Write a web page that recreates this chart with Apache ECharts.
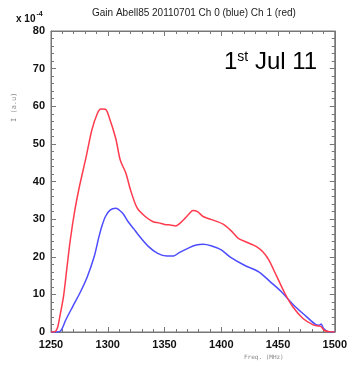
<!DOCTYPE html>
<html>
<head>
<meta charset="utf-8">
<script src="https://cdn.jsdelivr.net/npm/echarts@6/dist/echarts.min.js"></script>
<style>
  html, body { margin: 0; padding: 0; background: #fff; }
  #chart { width: 350px; height: 367px; }
</style>
</head>
<body>
<div id="chart"></div>
<script>
// Ch 1 (red) gain, units of 1e-4
const freqRed = [1250, 1254, 1256, 1258, 1261, 1264, 1267, 1271, 1275, 1281, 1286, 1291, 1294, 1298, 1301, 1307, 1311, 1316, 1320, 1326, 1333, 1340, 1345, 1350, 1356, 1360, 1364, 1368, 1372, 1375, 1379, 1384, 1389, 1394, 1402, 1409, 1415, 1423, 1431, 1437, 1442, 1449, 1456, 1463, 1472, 1481, 1486, 1488, 1491, 1495, 1500];
const ampRed = [0, 0.2, 1.4, 4.5, 9.4, 17, 24.5, 32.4, 38.6, 46.6, 53.7, 58.2, 59.3, 59.2, 57.3, 51.5, 45.7, 42.2, 37.8, 32.9, 30.7, 29.3, 29.0, 28.6, 28.4, 28.2, 29.0, 30.2, 31.5, 32.3, 32.0, 30.7, 30.1, 29.6, 28.6, 26.8, 24.9, 23.8, 22.7, 21.2, 19.1, 14.7, 10.3, 6.7, 3.6, 1.9, 1.6, 1.4, 0.4, 0.1, 0];

// Ch 0 (blue)
const freqBlue = [1250, 1256, 1259, 1263, 1269, 1276, 1282, 1288, 1292, 1295, 1298, 1302, 1307, 1313, 1318, 1323, 1327, 1336, 1344, 1352, 1358, 1363, 1371, 1378, 1384, 1391, 1400, 1408, 1420, 1433, 1443, 1453, 1463, 1475, 1483, 1486, 1488, 1490, 1494, 1500];
const ampBlue = [0, 0, 0.5, 3.2, 6.7, 10.7, 14.7, 20.0, 25.0, 28.3, 30.7, 32.4, 32.9, 31.6, 29.3, 27.4, 25.8, 22.7, 20.9, 20.2, 20.2, 21.1, 22.3, 23.1, 23.3, 22.9, 21.8, 19.9, 17.8, 16.0, 13.4, 10.7, 7.4, 4.1, 2.0, 1.8, 2.1, 1.0, 0.1, 0];

const xTicks = [1250, 1300, 1350, 1400, 1450, 1500];
const yTicks = [0, 10, 20, 30, 40, 50, 60, 70, 80];

const pairs = (xs, ys) => xs.map((x, i) => [x, ys[i]]);

const axisGrey = "#777";
const tickFont = { fontFamily: "Liberation Sans", fontWeight: "bold", fontSize: 11, color: "#111", formatter: (v) => String(v) };

function frameAxis(extra) {
  return Object.assign({
    type: "value",
    show: true,
    gridIndex: 0,
    axisLine: { show: true, onZero: false, lineStyle: { color: axisGrey, width: 1 } },
    axisTick: { show: true, inside: true, length: 5, lineStyle: { color: axisGrey } },
    minorTick: { show: true, splitNumber: 5, length: 3, lineStyle: { color: axisGrey } },
    splitLine: { show: false },
  }, extra);
}

const chart = echarts.init(document.getElementById("chart"), null, { renderer: "canvas" });
chart.setOption({
  animation: false,
  backgroundColor: "#fff",
  grid: { left: 51, right: 11, top: 31, bottom: 35, show: true, borderColor: axisGrey, borderWidth: 1, backgroundColor: "transparent" },
  xAxis: [
    frameAxis({
      position: "bottom", min: xTicks[0], max: xTicks[xTicks.length - 1], interval: 50,
      axisLabel: Object.assign({ margin: 7 }, tickFont),
    }),
    frameAxis({
      position: "top", min: xTicks[0], max: xTicks[xTicks.length - 1], interval: 50,
      axisLabel: { show: false },
    }),
  ],
  yAxis: [
    frameAxis({
      position: "left", min: yTicks[0], max: yTicks[yTicks.length - 1], interval: 10,
      axisLabel: Object.assign({ margin: 6 }, tickFont),
    }),
    frameAxis({
      position: "right", min: yTicks[0], max: yTicks[yTicks.length - 1], interval: 10,
      axisLabel: { show: false },
    }),
  ],
  series: [
    {
      name: "Ch 0", type: "line", showSymbol: false, smooth: 0.3,
      data: pairs(freqBlue, ampBlue),
      lineStyle: { color: "#4d4dff", width: 1.5 },
    },
    {
      name: "Ch 1", type: "line", showSymbol: false, smooth: 0.3,
      data: pairs(freqRed, ampRed),
      lineStyle: { color: "#ff3b4e", width: 1.5 },
    },
    // empty series bound to the mirror axes so they get drawn
    { type: "line", xAxisIndex: 1, yAxisIndex: 1, data: [], silent: true },
  ],
  graphic: [
    {
      type: "text", x: 92, y: 8,
      style: { text: "Gain Abell85 20110701 Ch 0 (blue) Ch 1 (red)", font: "10px 'Liberation Sans'", fill: "#222" },
    },
    {
      type: "text", x: 16, y: 11,
      style: {
        text: "{b|x 10}{s|-4}",
        rich: {
          b: { font: "bold 10px 'Liberation Sans'", fill: "#111", verticalAlign: "bottom" },
          s: { font: "bold 7px 'Liberation Sans'", fill: "#111", padding: [0, 0, 6, 1] },
        },
      },
    },
    {
      type: "text", x: 11, y: 122, rotation: Math.PI / 2,
      style: { text: "I (a.u)", font: "7px 'DejaVu Sans Mono'", fill: "#888" },
    },
    {
      type: "text", x: 244, y: 354,
      style: { text: "Freq. (MHz)", font: "6px 'DejaVu Sans Mono'", fill: "#888" },
    },
    {
      type: "text", x: 224, y: 50,
      style: {
        text: "{n|1}{s|st}{n| Jul 11}",
        rich: {
          n: { font: "24px 'Liberation Sans'", fill: "#000" },
          s: { font: "14px 'Liberation Sans'", fill: "#000", padding: [0, 0, 10, 0] },
        },
      },
    },
  ],
});
</script>
</body>
</html>
